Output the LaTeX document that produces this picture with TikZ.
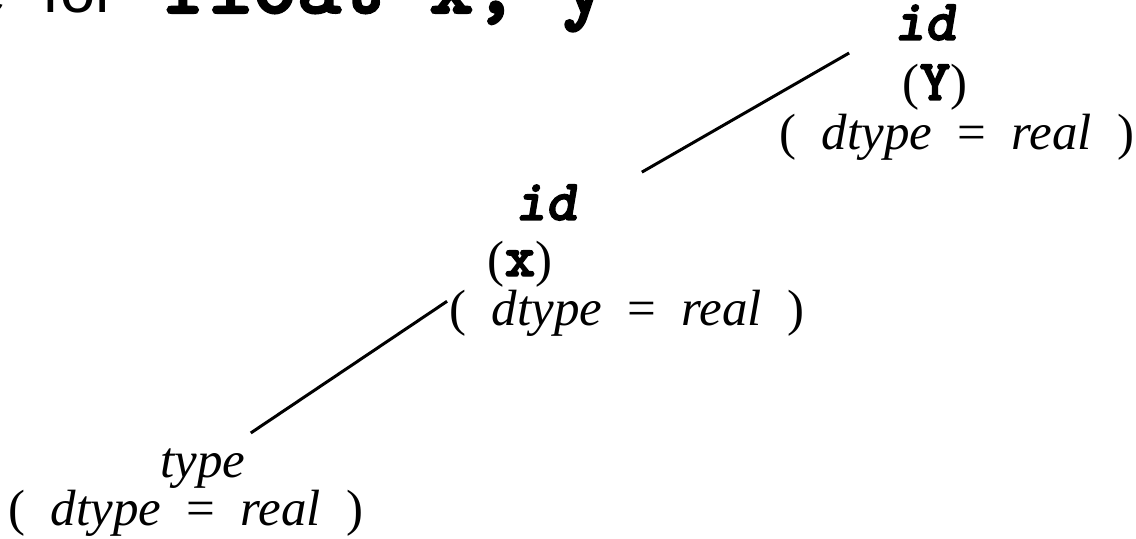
\documentclass[tikz,border=0pt]{standalone}
\usepackage{fontspec}
\setmainfont{Liberation Serif}
\setsansfont{Liberation Sans}
\setmonofont{lmmonolt10}[Extension=.otf, Scale=1.14,
  UprightFont=*-regular, BoldFont=*-bold,
  ItalicFont=*-oblique, BoldItalicFont=*-boldoblique,
  BoldFeatures={FakeBold=2.5}, BoldItalicFeatures={FakeBold=2.5}]

\tikzset{
  lbl/.style={anchor=base, inner sep=0pt, font=\fontsize{29}{32}\selectfont},
  edge/.style={line width=1.7pt},
}
\newcommand{\dattr}{(\enspace\textit{dtype}\enspace=\enspace\textit{real}\enspace)}
\newcommand{\code}[1]{{\ttfamily\bfseries #1}}

\begin{document}
\begin{tikzpicture}
  \useasboundingbox (0,0) rectangle (22.72,10.76);
  \clip (0,0) rectangle (22.72,10.76);
  % title, cut off by the top edge
  \node[anchor=base west, inner sep=0pt] (title) at (-0.57,10.5)
    {\fontsize{36}{40}\selectfont\sffamily e\hspace{0.71cm}for\hspace{0.96cm}\fontsize{42}{44}\selectfont\code{float x, y}};
  % id y
  \node[lbl] (yid) at (18.50,9.96) {\code{\itshape id}};
  \node[lbl] (yname) at (18.70,8.76) {(\code{Y})};
  \node[lbl] (yattr) at (19.14,7.76) {\dattr};
  % id x
  \node[lbl] (xid) at (10.92,6.36) {\code{\itshape id}};
  \node[lbl] (xname) at (10.40,5.24) {(\code{x})};
  \node[lbl] (xattr) at (12.54,4.26) {\dattr};
  % type
  \node[lbl] (tname) at (4.06,1.22) {\textit{type}};
  \node[lbl] (tattr) at (3.72,0.26) {\dattr};
  % edges
  \draw[edge] ([shift={(0.1,0.3)}]tname.north east) -- ([shift={(-0.04,-0.24)}]xattr.north west);
  \draw[edge] ([shift={(1.3,0.24)}]xid.north east) -- ([shift={(-0.9,-0.26)}]yid.base west);
\end{tikzpicture}
\end{document}
